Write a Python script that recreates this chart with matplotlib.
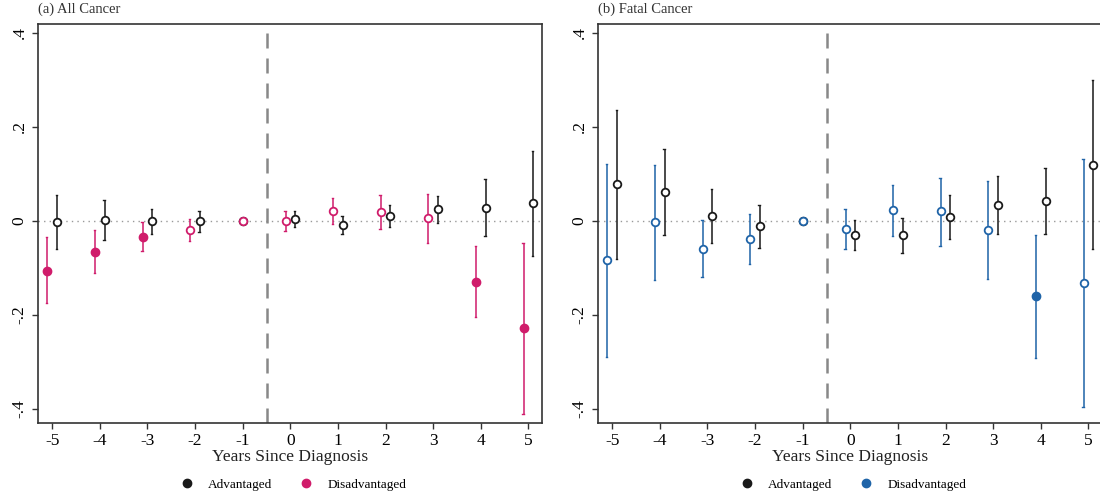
import numpy as np
import matplotlib
matplotlib.use('Agg')
import matplotlib.pyplot as plt
from matplotlib.lines import Line2D

plt.rcParams['font.family'] = ['Liberation Serif', 'DejaVu Serif']

# data
years = [-5, -4, -3, -2, -1, 0, 1, 2, 3, 4, 5]
ref_year = -1

all_adv = [-0.003, 0.001, 0.0, -0.001, 0.0, 0.003, -0.009, 0.010, 0.026, 0.028, 0.037]
all_adv_lo = [-0.060, -0.041, -0.027, -0.023, 0.0, -0.013, -0.027, -0.013, -0.004, -0.033, -0.074]
all_adv_hi = [0.054, 0.045, 0.026, 0.020, 0.0, 0.020, 0.011, 0.033, 0.052, 0.089, 0.149]

all_dis = [-0.106, -0.067, -0.034, -0.020, 0.0, 0.0, 0.020, 0.018, 0.006, -0.130, -0.229]
all_dis_lo = [-0.174, -0.110, -0.065, -0.044, 0.0, -0.021, -0.007, -0.018, -0.047, -0.205, -0.411]
all_dis_hi = [-0.035, -0.020, -0.003, 0.003, 0.0, 0.021, 0.048, 0.054, 0.058, -0.054, -0.047]

fat_adv = [0.078, 0.061, 0.011, -0.011, 0.0, -0.030, -0.030, 0.009, 0.034, 0.043, 0.119]
fat_adv_lo = [-0.081, -0.030, -0.047, -0.057, 0.0, -0.062, -0.069, -0.038, -0.028, -0.028, -0.060]
fat_adv_hi = [0.235, 0.152, 0.068, 0.033, 0.0, 0.002, 0.007, 0.054, 0.095, 0.113, 0.299]

fat_dis = [-0.084, -0.003, -0.059, -0.038, 0.0, -0.017, 0.023, 0.020, -0.020, -0.160, -0.132]
fat_dis_lo = [-0.289, -0.126, -0.120, -0.091, 0.0, -0.060, -0.033, -0.053, -0.123, -0.291, -0.396]
fat_dis_hi = [0.121, 0.118, 0.001, 0.015, 0.0, 0.026, 0.077, 0.092, 0.084, -0.031, 0.132]

yticks = [-0.4, -0.2, 0, 0.2, 0.4]
yticklabels = ['-.4', '-.2', '0', '.2', '.4']

black = '#1a1a1a'
pink = '#d01c6b'
blue = '#1f64a8'


def draw_series(ax, est, lo, hi, color, shift):
    est = np.array(est)
    lo = np.array(lo)
    hi = np.array(hi)
    x = np.array(years, dtype=float)
    x = np.where(x == ref_year, x, x + shift)
    sig = (hi < 0) | (lo > 0)
    ci = x != ref_year
    ax.vlines(x[ci], lo[ci], hi[ci], color=color, lw=1.3, alpha=0.85, zorder=2)
    # small caps
    for xi, l, h in zip(x[ci], lo[ci], hi[ci]):
        ax.plot([xi - 0.03, xi], [l, l], color=color, lw=1.0, zorder=2)
        ax.plot([xi - 0.03, xi], [h, h], color=color, lw=1.0, zorder=2)
    ax.plot(x[~sig], est[~sig], 'o', ms=5.5, mfc='white', mec=color, mew=1.3, ls='none', zorder=3)
    ax.plot(x[sig], est[sig], 'o', ms=6, mfc=color, mec=color, ls='none', zorder=3)


def setup(ax, title, dis_color):
    ax.axhline(0, color='#999999', lw=1, ls=(0, (1, 3)), zorder=1)
    ax.axvline(-0.5, color='#888888', lw=1.8, ls=(0, (6, 4)), zorder=1)
    ax.set_xlim(-5.3, 5.28)
    ax.set_ylim(-0.43, 0.419)
    ax.set_xticks(years)
    ax.set_xticklabels([str(y) for y in years], fontsize=12.5)
    ax.set_yticks(yticks)
    ax.set_yticklabels(yticklabels, fontsize=12.5, rotation=90, va='center')
    ax.tick_params(direction='out', length=4, color='#333333', width=1)
    for s in ax.spines.values():
        s.set_color('#333333')
        s.set_linewidth(1.2)
    ax.set_xlabel('Years Since Diagnosis', fontsize=12.5, labelpad=0, color='#222222')
    ax.text(0.0, 1.02, title, transform=ax.transAxes, fontsize=10.5,
            ha='left', va='bottom', color='#333333')
    handles = [Line2D([], [], marker='o', color=black, ls='none', ms=6),
               Line2D([], [], marker='o', color=dis_color, ls='none', ms=6)]
    ax.legend(handles, ['Advantaged', 'Disadvantaged'], loc='center',
              bbox_to_anchor=(0.5, -0.155), ncol=2, frameon=False, fontsize=9.5,
              handletextpad=0.6, columnspacing=1.6)


fig = plt.figure(figsize=(11, 4.97), dpi=100)
ax1 = fig.add_axes([0.0345, 0.149, 0.458, 0.803])
ax2 = fig.add_axes([0.5436, 0.149, 0.458, 0.803])

draw_series(ax1, all_adv, all_adv_lo, all_adv_hi, black, 0.1)
draw_series(ax1, all_dis, all_dis_lo, all_dis_hi, pink, -0.1)
setup(ax1, '(a) All Cancer', pink)

draw_series(ax2, fat_adv, fat_adv_lo, fat_adv_hi, black, 0.1)
draw_series(ax2, fat_dis, fat_dis_lo, fat_dis_hi, blue, -0.1)
setup(ax2, '(b) Fatal Cancer', blue)

fig.savefig('out.png', dpi=100)
